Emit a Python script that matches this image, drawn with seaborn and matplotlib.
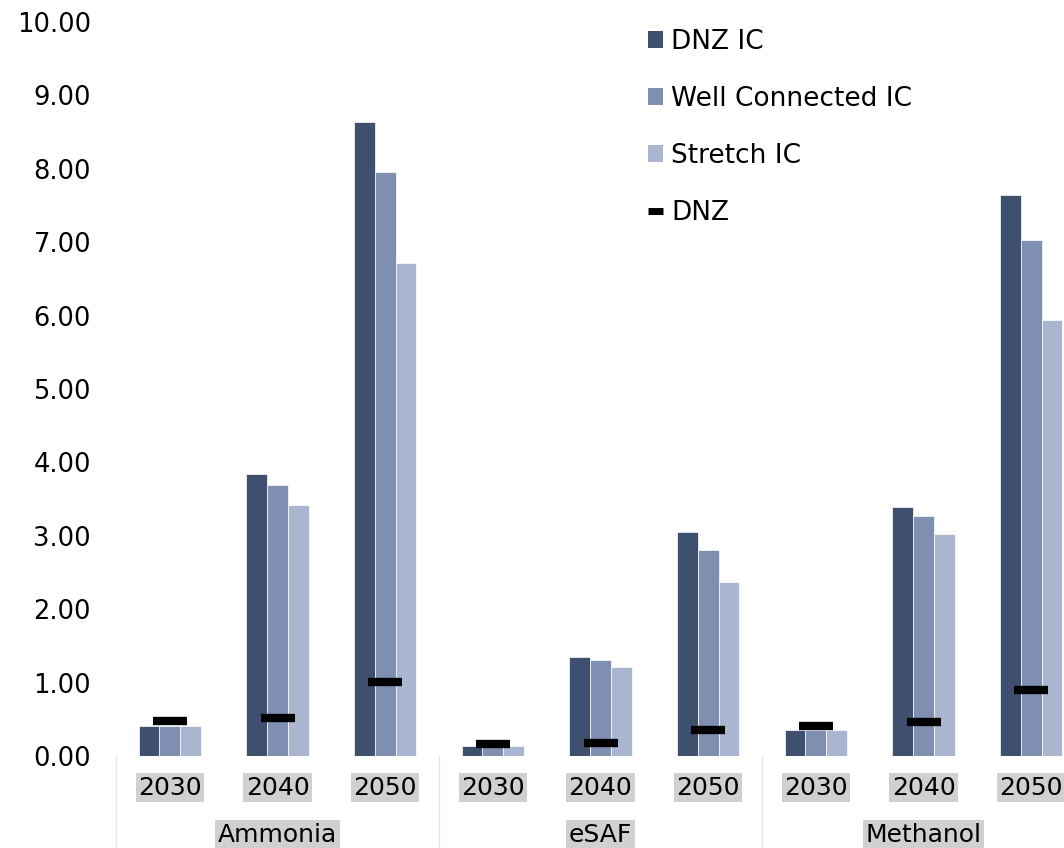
import matplotlib
matplotlib.use("Agg")
import matplotlib.pyplot as plt
import seaborn as sns
import pandas as pd
import numpy as np
from matplotlib.patches import Patch
from matplotlib.lines import Line2D

products = ["Ammonia", "eSAF", "Methanol"]
years = ["2030", "2040", "2050"]
series = ["DNZ IC", "Well Connected IC", "Stretch IC"]
dnz_ic = [0.41, 3.84, 8.64, 0.14, 1.35, 3.05, 0.35, 3.39, 7.64]
well_connected_ic = [0.41, 3.69, 7.96, 0.14, 1.31, 2.81, 0.35, 3.27, 7.03]
stretch_ic = [0.41, 3.42, 6.72, 0.14, 1.21, 2.37, 0.35, 3.02, 5.94]
dnz = [0.48, 0.52, 1.01, 0.17, 0.18, 0.35, 0.41, 0.46, 0.90]
colors = ["#3f4f6e", "#7f8fb1", "#aab6cf"]

sns.set_theme(style="white")
plt.rcParams["font.family"] = ["DejaVu Sans"]
plt.rcParams["text.color"] = "black"
plt.rcParams["ytick.color"] = "black"

cats = [f"{p}|{y}" for p in products for y in years]
rows = []
for name, vals in zip(series, [dnz_ic, well_connected_ic, stretch_ic]):
    for c, v in zip(cats, vals):
        rows.append({"cat": c, "series": name, "value": v})
df = pd.DataFrame(rows)

fig = plt.figure(figsize=(10.64, 8.48), dpi=100)
ax = fig.add_axes([116/1064, (848-756)/848, 969/1064, (756-22)/848])

sns.barplot(data=df, x="cat", y="value", hue="series", order=cats,
            hue_order=series, palette=colors, width=0.58, saturation=1,
            ax=ax, legend=False, edgecolor="white", linewidth=0.5)

ax.scatter(np.arange(len(cats)), dnz, marker="_", s=600,
           linewidths=6, color="black", zorder=5)

ax.set_ylim(0, 10)
ax.set_xlim(-0.5, len(cats) - 0.5)
ax.set_yticks(np.arange(0, 11, 1))
ax.set_yticklabels([f"{v:.2f}" for v in np.arange(0, 11, 1)], fontsize=18.5, color="black")
ax.tick_params(axis="y", length=0, pad=18)
ax.set_xlabel("")
ax.set_ylabel("")
ax.set_xticks(np.arange(len(cats)))
ax.set_xticklabels([])
ax.tick_params(axis="x", length=0)
for s in ax.spines.values():
    s.set_visible(False)

trans = ax.get_xaxis_transform()
for i, c in enumerate(cats):
    ax.text(i, -0.043, c.split("|")[1], transform=trans, ha="center", va="center",
            fontsize=18, color="black",
            bbox=dict(boxstyle="square,pad=0.1", fc="#d0d0d0", ec="none"),
            clip_on=False)
for j, p in enumerate(products):
    ax.text(j * 3 + 1, -0.107, p, transform=trans, ha="center", va="center",
            fontsize=18, color="black",
            bbox=dict(boxstyle="square,pad=0.1", fc="#d0d0d0", ec="none"),
            clip_on=False)
for j in range(len(products)):
    ax.add_line(Line2D([j * 3 - 0.5, j * 3 - 0.5], [0, -0.2], transform=trans,
                       color="#e6e6e6", lw=1, clip_on=False))

handles = [Patch(facecolor=c, edgecolor="none") for c in colors]
handles.append(Line2D([0], [0], color="black", lw=5, solid_capstyle="butt"))
leg = fig.legend(handles, series + ["DNZ"], loc="upper left",
                 bbox_to_anchor=(637/1064, 1 - 18/848), frameon=False,
                 fontsize=19, handlelength=0.6, handleheight=0.6,
                 handletextpad=0.3, labelspacing=1.18, borderaxespad=0)
for t in leg.get_texts():
    t.set_color("black")

fig.savefig("out.png", dpi=100)
